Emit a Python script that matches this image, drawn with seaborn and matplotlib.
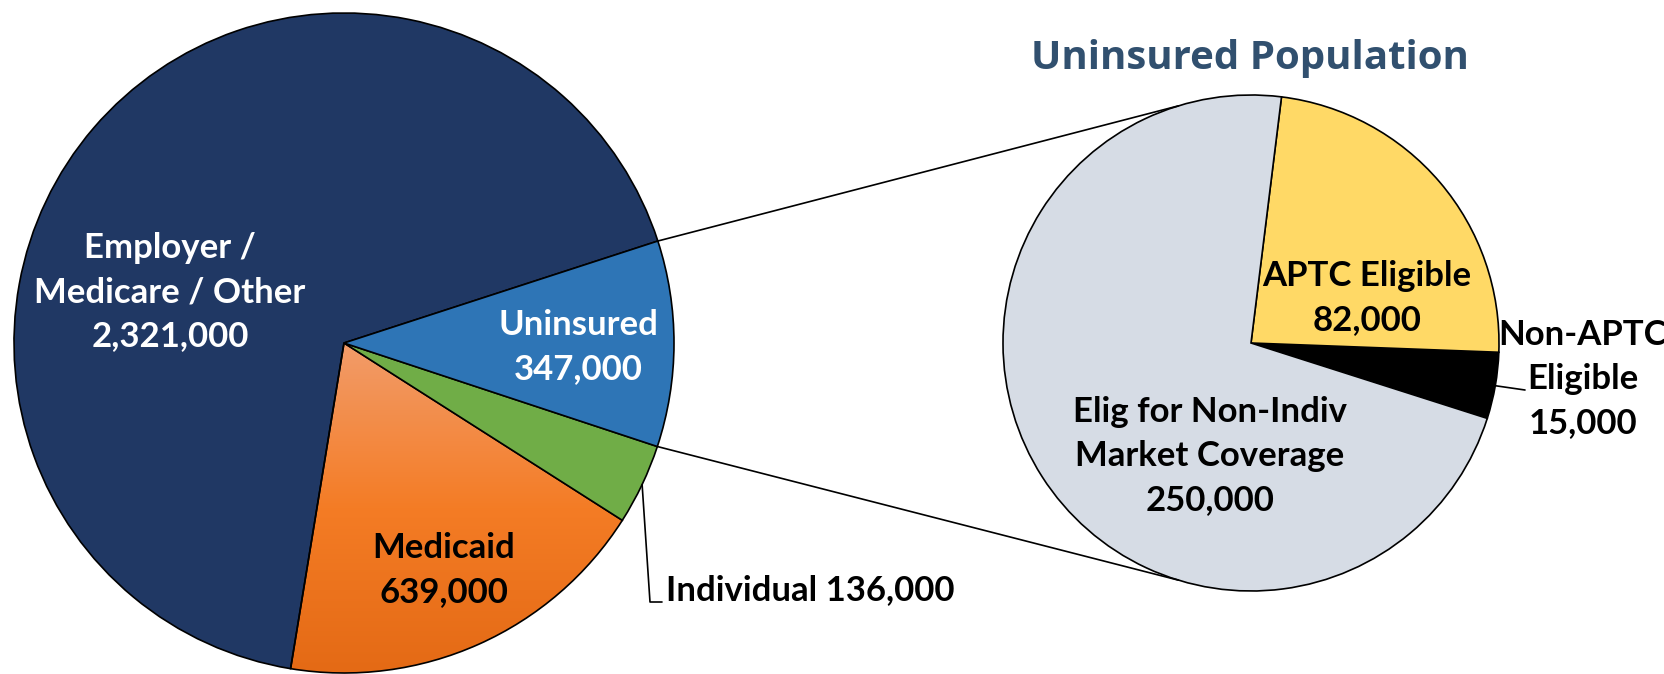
import numpy as np
import matplotlib
matplotlib.use("Agg")
import matplotlib.pyplot as plt
import seaborn as sns

# main pie: counter-clockwise starting at the upper edge of the Uninsured slice
main_labels = ["Employer /\nMedicare / Other", "Medicaid", "Individual", "Uninsured"]
main_values = [2321000, 639000, 136000, 347000]
main_colors = ["#203864", "#F47C25", "#70AD47", "#2E75B6"]
main_text = ["white", "black", "black", "white"]

# breakdown of the uninsured slice
sub_labels = ["Non-APTC\nEligible", "APTC Eligible", "Elig for Non-Indiv\nMarket Coverage"]
sub_values = [15000, 82000, 250000]
sub_colors = ["#000000", "#FFD966", "#D6DCE5"]

sub_title = "Uninsured Population"

sns.set_theme(style="white")
plt.rcParams['font.family'] = ['Lato', 'DejaVu Sans']

W, H = 1664, 674
fig = plt.figure(figsize=(W / 100, H / 100), dpi=100)
ax = fig.add_axes([0, 0, 1, 1])

main_c, main_r = np.array([344.0, H - 343.0]), 330
sub_c, sub_r = np.array([1251.0, H - 343.0]), 248
edge = dict(edgecolor="black", linewidth=1.2)

main_w, _ = ax.pie(main_values, colors=main_colors, startangle=18,
                   center=main_c, radius=main_r, wedgeprops=edge)
sub_w, _ = ax.pie(sub_values, colors=sub_colors, startangle=-17.7,
                  center=sub_c, radius=sub_r, wedgeprops=edge)

# Medicaid slice has a light-to-dark vertical gradient
med = main_w[1]
grad = sns.blend_palette(["#F29C6A", "#F47C25", "#E46A15"], n_colors=256, as_cmap=True)
img = ax.imshow(np.linspace(0, 1, 256).reshape(-1, 1), cmap=grad, origin="upper",
                extent=(main_c[0] - main_r, main_c[0] + main_r,
                        main_c[1] - main_r, main_c[1]),
                aspect="auto", zorder=0.5)
img.set_clip_path(med)
med.set_facecolor("none")


def on_circle(c, r, ang):
    a = np.radians(ang)
    return c + r * np.array([np.cos(a), np.sin(a)])


# connector lines from the Uninsured slice to the second pie
unins = main_w[3]
for a_main, a_sub in [(unins.theta2, 107), (unins.theta1, -107)]:
    p0 = on_circle(main_c, main_r, a_main)
    p1 = on_circle(sub_c, sub_r, a_sub)
    ax.plot([p0[0], p1[0]], [p0[1], p1[1]], color="black", lw=1.2, zorder=3)

fs = 25
bold = dict(fontsize=fs, fontweight="bold", ha="center", va="center", linespacing=1.45)

# main pie labels
ax.text(170, H - 292, f"{main_labels[0]}\n{main_values[0]:,}", color=main_text[0], **bold)
ax.text(444, H - 570, f"{main_labels[1]}\n{main_values[1]:,}", color=main_text[1], **bold)
ax.text(578, H - 347, f"{main_labels[3]}\n{main_values[3]:,}", color=main_text[3], **bold)

# Individual label with leader line
ind = main_w[2]
p = on_circle(main_c, main_r, (ind.theta1 + ind.theta2) / 2)
ax.plot([p[0], 650, 662], [p[1], H - 602, H - 602], color="black", lw=1.2, zorder=3)
ax.text(666, H - 590, f"{main_labels[2]} {main_values[2]:,}", color="black",
        fontsize=fs, fontweight="bold", ha="left", va="center")

# sub pie labels
ax.text(1367, H - 298, f"{sub_labels[1]}\n{sub_values[1]:,}", color="black", **bold)
ax.text(1210, H - 456, f"{sub_labels[2]}\n{sub_values[2]:,}", color="black", **bold)

na = sub_w[0]
p = on_circle(sub_c, sub_r, (na.theta1 + na.theta2) / 2)
ax.plot([p[0], 1525], [p[1], H - 390], color="black", lw=1.2, zorder=3)
ax.text(1583, H - 379, f"{sub_labels[0]}\n{sub_values[0]:,}", color="black", **bold)

ax.text(1250, H - 58, sub_title, color="#31506F", fontsize=29, fontweight="bold",
        ha="center", va="center", family=["Open Sans", "DejaVu Sans"])

ax.set_xlim(0, W)
ax.set_ylim(0, H)
ax.set_aspect("equal")
ax.axis("off")

fig.savefig("out.png", dpi=100)
